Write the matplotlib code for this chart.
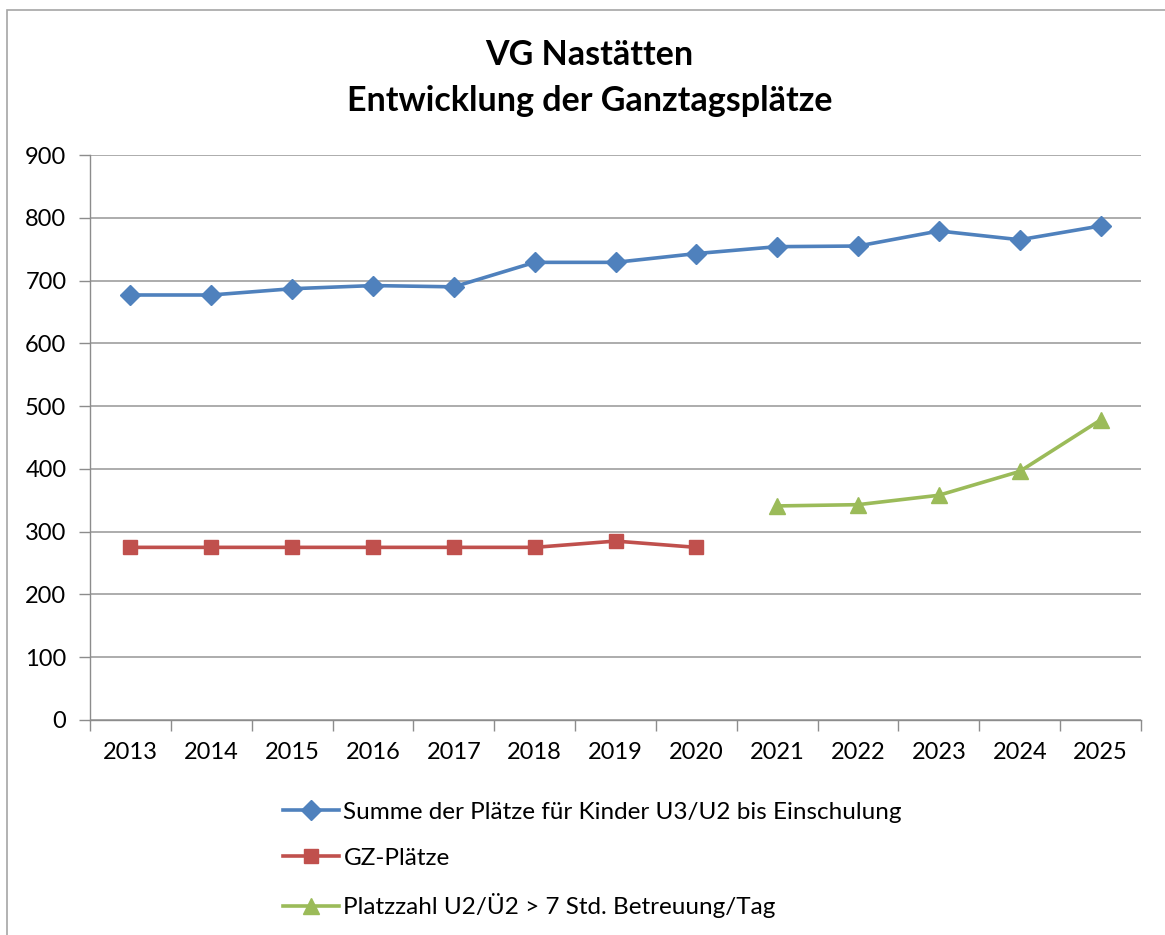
import matplotlib.pyplot as plt
import numpy as np
from matplotlib.patches import Rectangle

# Daten
jahre = ["2013", "2014", "2015", "2016", "2017", "2018", "2019",
         "2020", "2021", "2022", "2023", "2024", "2025"]
summe_plaetze = [677, 677, 687, 692, 690, 729, 729, 743, 754, 755, 779, 765, 787]
gz_plaetze = [275, 275, 275, 275, 275, 275, 285, 275]
platzzahl_u2 = [341, 343, 358, 396, 478]

label_summe = "Summe der Plätze für Kinder U3/U2 bis Einschulung"
label_gz = "GZ-Plätze"
label_u2 = "Platzzahl U2/Ü2 > 7 Std. Betreuung/Tag"

plt.rcParams['font.family'] = ['Lato', 'DejaVu Sans']

fig = plt.figure(figsize=(11.65, 9.35), dpi=100)
ax = fig.add_axes([90/1165, 1 - 720/935, (1141-90)/1165, (720-155)/935])

# Rahmen um das Diagramm
fig.patches.append(Rectangle((7/1165, -0.05), 1.2, 1 - 10/935 + 0.05,
                             transform=fig.transFigure, fill=False,
                             edgecolor='#a6a6a6', linewidth=1.2))

x = np.arange(len(jahre))
ax.plot(x, summe_plaetze, color='#4F81BD', lw=2.6, marker='D', ms=10, label=label_summe)
ax.plot(x[:len(gz_plaetze)], gz_plaetze, color='#C0504D', lw=2.6, marker='s', ms=10, label=label_gz)
ax.plot(x[8:8+len(platzzahl_u2)], platzzahl_u2, color='#9BBB59', lw=2.6, marker='^', ms=12, label=label_u2)

ax.set_xlim(-0.5, len(jahre) - 0.5)
ax.set_ylim(0, 900)
ax.set_yticks(np.arange(0, 901, 100))
ax.set_xticks(x)
ax.set_xticklabels(jahre)
ax.set_xticks(np.arange(-0.5, len(jahre), 1), minor=True)
ax.tick_params(axis='x', which='major', length=0, pad=16, labelsize=17)
ax.tick_params(axis='x', which='minor', length=8, color='#8c8c8c', width=1)
ax.tick_params(axis='y', length=8, color='#8c8c8c', width=1, pad=9, labelsize=17)
ax.grid(axis='y', color='#a6a6a6', lw=1.3)
ax.set_axisbelow(True)
for s in ['top', 'right']:
    ax.spines[s].set_visible(False)
for s in ['left', 'bottom']:
    ax.spines[s].set_color('#8c8c8c')
    ax.spines[s].set_linewidth(1)

fig.text(0.506, 1 - 55/935, "VG Nastätten", ha='center', va='center',
         fontsize=24.5, fontweight='bold')
fig.text(0.506, 1 - 101/935, "Entwicklung der Ganztagsplätze", ha='center', va='center',
         fontsize=24.5, fontweight='bold')

fig.legend(loc='upper left', bbox_to_anchor=(273/1165, 1 - 792/935), frameon=False,
           fontsize=17.5, handlelength=2.3, labelspacing=1.02, handletextpad=0.2,
           borderaxespad=0)

fig.savefig("out.png", dpi=100)
